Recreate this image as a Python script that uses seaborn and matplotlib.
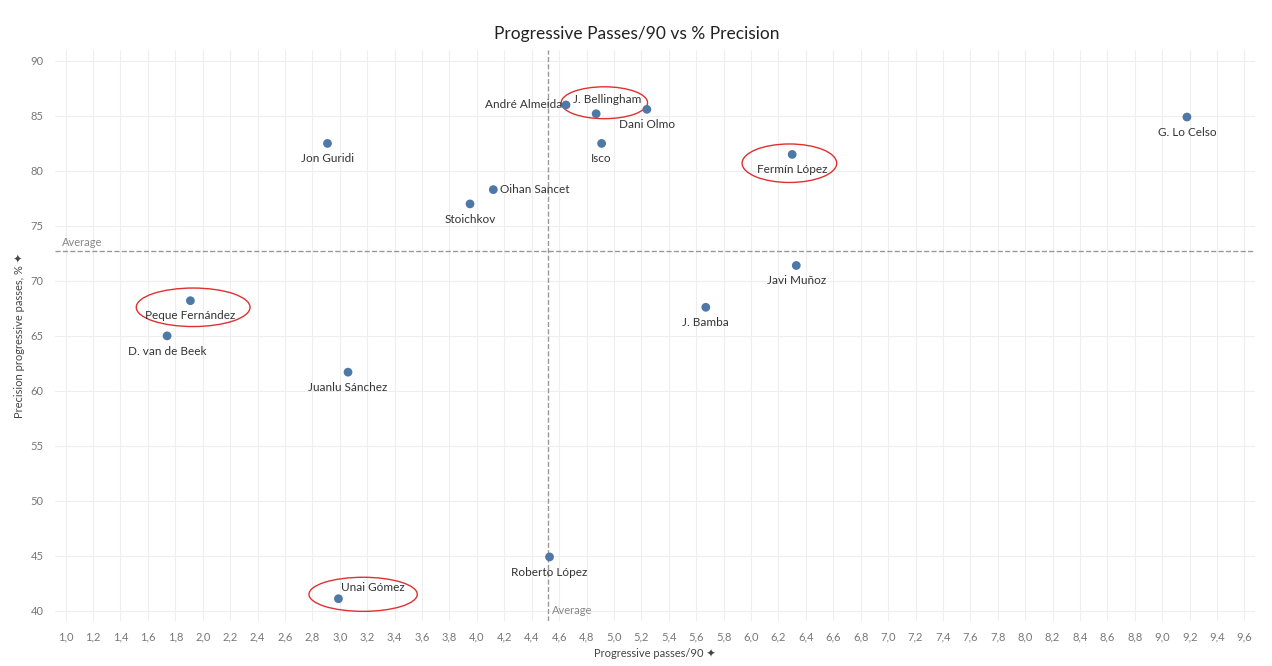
import matplotlib.pyplot as plt
import seaborn as sns
import pandas as pd
import numpy as np
from matplotlib.patches import Ellipse
from matplotlib.ticker import FuncFormatter

def set_global_font():
    """设置全局字体"""
    sns.set_theme(style="whitegrid")
    plt.rcParams['font.family'] = ['Lato', 'DejaVu Sans']
    plt.rcParams['axes.unicode_minus'] = False

def get_data():
    """球员数据"""
    players = {
        'André Almeida': (4.65, 86.0),
        'J. Bellingham': (4.87, 85.2),
        'Dani Olmo': (5.24, 85.6),
        'G. Lo Celso': (9.18, 84.9),
        'Jon Guridi': (2.91, 82.5),
        'Isco': (4.91, 82.5),
        'Fermín López': (6.30, 81.5),
        'Oihan Sancet': (4.12, 78.3),
        'Stoichkov': (3.95, 77.0),
        'Javi Muñoz': (6.33, 71.4),
        'J. Bamba': (5.67, 67.6),
        'Peque Fernández': (1.91, 68.2),
        'D. van de Beek': (1.74, 65.0),
        'Juanlu Sánchez': (3.06, 61.7),
        'Roberto López': (4.53, 44.9),
        'Unai Gómez': (2.99, 41.1),
    }
    df = pd.DataFrame([(k, v[0], v[1]) for k, v in players.items()],
                      columns=['player', 'prog', 'prec'])
    return df

def plot_scatter(df):
    """绘制散点图"""
    fig, ax = plt.subplots(figsize=(12.72, 6.66), dpi=100)
    fig.subplots_adjust(left=0.043, right=0.987, top=0.925, bottom=0.068)
    sns.scatterplot(data=df, x='prog', y='prec', ax=ax, color='#4e79a7',
                    s=40, edgecolor='none', zorder=3)

    # 标签位置
    offsets = {'André Almeida': (-3, 0, 'right', 'center'),
               'Oihan Sancet': (5, 0, 'left', 'center'),
               'Dani Olmo': (0, -7, 'center', 'top'),
               'J. Bellingham': (8, 6, 'center', 'bottom'),
               'Unai Gómez': (2, 4, 'left', 'bottom')}
    for _, r in df.iterrows():
        dx, dy, ha, va = offsets.get(r['player'], (0, -7, 'center', 'top'))
        ax.annotate(r['player'], (r['prog'], r['prec']), xytext=(dx, dy),
                    textcoords='offset points', ha=ha, va=va,
                    fontsize=8.5, color='#333333')

    # 平均线
    avg_x, avg_y = 4.52, 72.7
    ax.axvline(avg_x, color='#999999', ls='--', lw=1, zorder=1)
    ax.axhline(avg_y, color='#999999', ls='--', lw=1, zorder=1)
    ax.text(0.97, avg_y + 0.3, 'Average', fontsize=8, color='#888888', va='bottom')
    ax.text(avg_x + 0.03, 39.5, 'Average', fontsize=8, color='#888888', va='bottom')

    # 红色圈
    for cx, cy, w, h in [(4.93, 86.2, 0.63, 2.9), (6.28, 80.7, 0.69, 3.5),
                         (1.93, 67.6, 0.83, 3.5), (3.17, 41.5, 0.79, 3.1)]:
        ax.add_patch(Ellipse((cx, cy), w, h, fill=False, edgecolor='#e03030', lw=1))

    ax.set_xlim(0.92, 9.68)
    ax.set_ylim(39.1, 91)
    ax.set_xticks(np.arange(1.0, 9.61, 0.2))
    ax.set_yticks(range(40, 91, 5))
    ax.xaxis.set_major_formatter(FuncFormatter(lambda v, p: f"{v:.1f}".replace('.', ',')))
    ax.tick_params(labelsize=8, colors='#777777', pad=2)
    ax.grid(color='#eeeeee', lw=0.8)
    for s in ax.spines.values():
        s.set_visible(False)
    ax.set_title('Progressive Passes/90 vs % Precision', fontsize=12.5, color='#222222',
                 pad=8, x=0.485)
    ax.set_xlabel('Progressive passes/90 ✦', fontsize=8, color='#444444')
    ax.set_ylabel('Precision progressive passes, % ✦', fontsize=8, color='#444444')
    return fig

def main():
    set_global_font()
    df = get_data()
    fig = plot_scatter(df)
    fig.savefig('out.png', dpi=100)
    plt.close(fig)

if __name__ == "__main__":
    main()
